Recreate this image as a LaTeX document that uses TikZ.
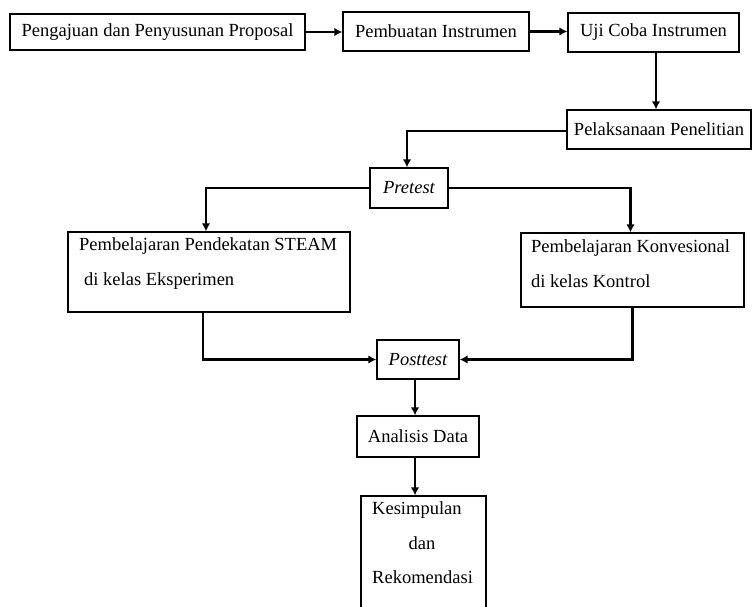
\documentclass[tikz,border=0pt]{standalone}
\usepackage{fontspec}
\setmainfont{Liberation Serif}
\usetikzlibrary{arrows.meta}
\newcommand{\fs}{\fontsize{18.5}{35}\selectfont}
\tikzset{
  boxnode/.style={draw, line width=1.3pt, rectangle, inner sep=0pt, font=\fs},
  txt/.style={inner sep=0pt, font=\fs},
  conn/.style={line width=2.6pt, -{Latex[length=8pt,width=8.5pt]}}
}
\begin{document}
\begin{tikzpicture}[x=1pt,y=-1pt]
\useasboundingbox (0,0) rectangle (752,607);
\clip (0,0) rectangle (752,607);
\fill[white] (0,0) rectangle (752,607);
% boxes
\node[boxnode, minimum width=295pt, minimum height=36pt] (b1) at (157.5,32) {Pengajuan dan Penyusunan Proposal};
\node[boxnode, minimum width=186pt, minimum height=39pt] (b2) at (436,31.5) {Pembuatan Instrumen};
\node[boxnode, minimum width=171pt, minimum height=39pt] (b3) at (653.5,32.5) {Uji Coba Instrumen};
\node[boxnode, minimum width=184pt, minimum height=39pt] (b4) at (659,129.5) {Pelaksanaan Penelitian};
\node[boxnode, minimum width=78pt, minimum height=40pt] (pre) at (409,188) {\itshape Pretest};
\node[boxnode, minimum width=282pt, minimum height=80pt] (b5) at (209,272) {};
\node[txt, anchor=mid west] (b5a) at (79,248) {Pembelajaran Pendekatan STEAM};
\node[txt, anchor=mid west] (b5b) at (84,283) {di kelas Eksperimen};
\node[boxnode, minimum width=223pt, minimum height=74pt] (b6) at (632.5,270) {};
\node[txt, anchor=mid west] (b6a) at (531,250) {Pembelajaran Konvesional};
\node[txt, anchor=mid west] (b6b) at (531,285) {di kelas Kontrol};
\node[boxnode, minimum width=82pt, minimum height=39pt] (post) at (418,359.5) {\itshape Posttest};
\node[boxnode, minimum width=122pt, minimum height=41pt] (ana) at (418,436.5) {Analisis Data};
\node[boxnode, minimum width=125pt, minimum height=130pt] (b8) at (423.5,561) {};
\node[txt, anchor=mid west] (b8a) at (372,512) {Kesimpulan};
\node[txt, anchor=mid] (b8b) at (422,547) {dan};
\node[txt, anchor=mid west] (b8c) at (372,581) {Rekomendasi};
% connectors
\draw[conn] (b1.east) -- (b1.east -| b2.west);
\draw[conn] (b2.east) -- (b2.east -| b3.west);
\draw[conn] ([xshift=2.5pt]b3.south) -- ([xshift=2.5pt]b3.south |- b4.north);
\draw[conn] ([yshift=-1.5pt]b4.west) -| ([xshift=-2pt]pre.north);
\draw[conn] (pre.west) -| ([xshift=-3pt]b5.north);
\draw[conn] (pre.east) -| ([xshift=-2pt]b6.north);
\draw[conn] ([xshift=-6pt]b5.south) |- (post.west);
\draw[conn] (b6.south) |- (post.east);
\draw[conn] ([xshift=-3pt]post.south) -- ([xshift=-3pt]post.south |- ana.north);
\draw[conn] ([xshift=-3pt]ana.south) -- ([xshift=-3pt]ana.south |- b8.north);
\end{tikzpicture}
\end{document}
